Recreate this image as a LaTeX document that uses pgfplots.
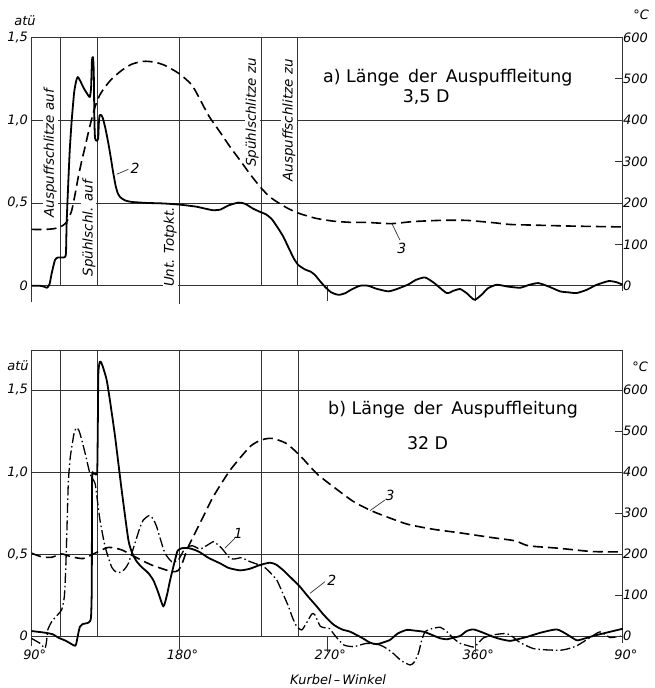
\documentclass[border=0pt]{standalone}
\usepackage{fontspec}
\setmainfont{DejaVu Sans}
\usepackage{pgfplots}
\pgfplotsset{compat=1.18}

\pgfplotsset{
  panel/.style={
    scale only axis, width=591.2bp, enlargelimits=false, clip=false,
    xmin=90, xmax=450, axis line style={draw=none},
    major tick length=0pt,
    ymajorgrids, grid style={line width=0.7bp, black!80},
    ytick={0,0.5,1,1.5}, yticklabels={0,{0,5},{1,0},{1,5}},
    yticklabel style={font=\fontsize{13}{15}\selectfont\itshape},
    xticklabel style={font=\fontsize{13}{15}\selectfont\itshape, yshift=-1bp},
  },
  tempaxis/.style={
    scale only axis, width=591.2bp, enlargelimits=false,
    xmin=90, xmax=450, axis x line=none, axis y line*=right,
    axis line style={draw=none},
    ytick={0,100,...,600}, yticklabels={0,100,200,300,400,500,600},
    tick align=inside, major tick length=8bp,
    tick style={line width=0.7bp, black!80},
    yticklabel style={font=\fontsize{13}{15}\selectfont\itshape, xshift=-3bp},
  },
}
\tikzset{
  gl/.style={line width=0.7bp, black!80},
  druck/.style={line width=1.8bp, black, smooth, tension=0.35, line join=round},
  temp/.style={line width=1.6bp, black, smooth, tension=0.4, dash pattern=on 10bp off 5bp},
  strpkt/.style={line width=1.3bp, black, smooth, tension=0.35, dash pattern=on 10bp off 3bp on 1.5bp off 3bp},
  rlab/.style={rotate=90, fill=white, inner sep=1bp, font=\fontsize{13.5}{15}\selectfont\itshape},
  ttl/.style={font=\fontsize{17.5}{20}\selectfont},
  num/.style={font=\fontsize{14}{16}\selectfont\itshape},
  lab/.style={font=\fontsize{13}{15}\selectfont\itshape},
}

\begin{document}
\begin{tikzpicture}
\useasboundingbox (0,0) rectangle (655bp,-688bp);

% ---------- a) 3,5 D ----------
\begin{axis}[panel, at={(31.5bp,-302.3bp)}, anchor=south west,
  height=265bp, ymin=-0.1, ymax=1.5, xtick=\empty]
\draw[gl] (axis cs:90,-0.1) -- (axis cs:90,1.5);
\draw[gl] (axis cs:450,-0.03) -- (axis cs:450,1.5);
\draw[gl] (axis cs:107.5,0) -- (axis cs:107.5,1.5);
\draw[gl] (axis cs:129.8,0) -- (axis cs:129.8,1.5);
\draw[gl] (axis cs:229.8,0) -- (axis cs:229.8,1.5);
\draw[gl] (axis cs:252,0) -- (axis cs:252,1.5);
\draw[gl] (axis cs:180,-0.11) -- (axis cs:180,1.5);
\draw[gl] (axis cs:270,0) -- (axis cs:270,-0.09);
\draw[gl] (axis cs:360,0) -- (axis cs:360,-0.09);

\addplot[druck] coordinates {
(90,0) (95,0) (97.5,-0.005) (99.5,-0.012) (101,0.01) (102.3,0.075) (104.3,0.155)
(106,0.17) (110.2,0.172) (111,0.2) (111.4,0.38) (112.3,0.6) (113.3,0.82) (114.5,1.0)
(116,1.17) (117.3,1.24) (118.2,1.26) (119.5,1.24) (122,1.19) (124.5,1.15) (125.6,1.14)
(126.3,1.2) (126.8,1.36) (127.4,1.38) (127.9,1.3) (128.3,1.0) (128.7,0.89) (129.8,0.875)
(130.6,0.89) (131.0,0.98) (131.5,1.03) (132.5,1.03) (133.5,1.01) (135,0.95) (136.8,0.86)
(138.5,0.76) (139.8,0.68) (141.3,0.60) (142.5,0.56) (144,0.535) (147,0.515) (151,0.506)
(160,0.50) (170,0.497) (180,0.49) (190,0.478) (196,0.465) (200.6,0.456) (205,0.46)
(210,0.485) (216,0.502) (220,0.495) (225,0.465) (229.2,0.446) (233,0.43) (236.5,0.40)
(240,0.35) (243.4,0.295) (247,0.22) (250,0.16) (252.5,0.125) (256.6,0.098) (260,0.085)
(262.7,0.064) (265.5,0.03) (268.7,-0.006) (272.5,-0.04) (277,-0.055) (281,-0.045)
(285,-0.022) (290,0.0) (295,0.0) (300,-0.018) (307.3,-0.034) (313,-0.018) (319.5,0.008)
(324,0.035) (329.6,0.05) (335,0.018) (342.8,-0.044) (347,-0.03) (351,-0.02) (355,-0.045)
(359.7,-0.085) (364,-0.055) (368,-0.015) (373.3,0.006) (380,-0.005) (387.5,-0.012)
(393,0.005) (398.6,0.016) (405,-0.005) (411.9,-0.034) (417,-0.04) (422,-0.044)
(428,-0.025) (434,0.005) (441.3,0.028) (446,0.022) (450,0.006)
};

\node[rlab] at (axis cs:101.3,0.80) {Auspuffschlitze auf};
\node[rlab] at (axis cs:124.9,0.347) {Spühlschl. auf};
\node[rlab] at (axis cs:174.4,0.233) {Unt. Totpkt.};
\node[rlab] at (axis cs:224.3,1.046) {Spühlschlitze zu};
\node[rlab] at (axis cs:246.8,0.998) {Auspuffschlitze zu};

\node[ttl] at (axis cs:343.5,1.257) {a) Länge\hspace{0.5em}der\hspace{0.5em}Auspuffleitung};
\node[ttl] at (axis cs:330.3,1.137) {3,5 D};

\draw[gl] (axis cs:141.9,0.673) -- (axis cs:149,0.703);
\node[num] at (axis cs:153,0.709) {2};
\draw[gl] (axis cs:309.4,0.376) -- (axis cs:314.4,0.275);
\node[num] at (axis cs:315.5,0.227) {3};

\node[lab] at (axis cs:86,1.60) {atü};
\node[lab] at (axis cs:461.2,1.637) {°C};
\end{axis}

\begin{axis}[tempaxis, at={(31.5bp,-302.3bp)}, anchor=south west,
  height=265bp, ymin=-40, ymax=600]
\addplot[temp] coordinates {
(90,136) (98,136) (104,138) (108,143) (110.5,150) (112.5,162) (114.5,182) (116.5,220)
(118.5,263) (120.5,300) (122.6,335) (125.5,385) (128.7,432) (131.5,460) (134.8,480)
(139,500) (144.9,520) (151,535) (158.1,542) (165,540) (171.3,532) (180,512) (187.6,485)
(192.6,450) (198,410) (204.8,371) (211,335) (217,303) (223,270) (229.2,239) (235,215)
(241.3,198) (247,185) (253.5,174) (263,163) (273.8,156) (285,153) (294.1,153) (309,150)
(322.5,155) (340,158) (354,158) (361,156) (372,152) (381.4,148) (400,146) (420,144)
(450,142)
};
\end{axis}

% ---------- b) 32 D ----------
\begin{axis}[panel, at={(31.5bp,-645.8bp)}, anchor=south west,
  height=295.2bp, ymin=-0.06, ymax=1.74,
  xtick={90,180,270,360,450},
  xticklabels={90\rlap{°},180\rlap{°},270\rlap{°},360\rlap{°},90\rlap{°}}]
\draw[gl] (axis cs:90,-0.06) -- (axis cs:90,1.74) -- (axis cs:450,1.74) -- (axis cs:450,-0.04);
\draw[gl] (axis cs:107.8,0) -- (axis cs:107.8,1.74);
\draw[gl] (axis cs:130.2,0) -- (axis cs:130.2,1.74);
\draw[gl] (axis cs:230.2,0) -- (axis cs:230.2,1.74);
\draw[gl] (axis cs:252.2,0) -- (axis cs:252.2,1.74);
\draw[gl] (axis cs:180,-0.08) -- (axis cs:180,1.74);
\draw[gl] (axis cs:270,0) -- (axis cs:270,-0.1);
\draw[gl] (axis cs:360,0) -- (axis cs:360,-0.1);

% 1
\addplot[strpkt] coordinates {
(90,-0.015) (95.2,-0.045) (98.2,-0.075) (99.2,-0.03) (99.9,0.037) (102.3,0.087)
(106,0.13) (108.4,0.16) (110,0.24) (110.8,0.4) (111.4,0.585) (112.4,0.93) (113.5,1.08)
(114.5,1.15) (116,1.24) (117.5,1.27) (119,1.25) (120.6,1.195) (123,1.1) (125.6,0.99)
(128.7,0.93) (130.2,0.82) (131.7,0.707) (134.8,0.545) (138.8,0.42) (141.5,0.39)
(143.9,0.388) (146.5,0.405) (149,0.443) (153,0.565) (156,0.66) (158.1,0.707)
(161.6,0.734) (164,0.715) (166.2,0.667) (168.5,0.59) (171.3,0.504) (175.4,0.453)
(179.4,0.463) (183.5,0.535) (188,0.55) (192.6,0.53) (196.5,0.55) (200.7,0.575)
(203,0.56) (205.8,0.535) (210.9,0.474) (214,0.47) (218,0.477) (223.1,0.453)
(231.2,0.423) (235,0.39) (239.4,0.34) (243,0.26) (246.5,0.18) (249,0.11) (251.6,0.057)
(254.6,0.037) (257.5,0.08) (260.7,0.134) (262.5,0.13) (265.8,0.06) (268.7,0.05)
(271.5,0.045) (275,0.0) (280.2,-0.055) (286.3,-0.065) (294.1,-0.045) (302.2,-0.055)
(306,-0.075) (310.3,-0.106) (315,-0.15) (320.5,-0.177) (323,-0.16) (325.6,-0.106)
(327.5,-0.03) (329.7,0.026) (334,0.045) (338.8,0.053) (342.5,0.03) (346.9,-0.014)
(351,-0.045) (355,-0.057) (359.1,-0.067) (362,-0.045) (365.2,-0.012) (372,0.008)
(379.4,0.015) (383,-0.005) (387.5,-0.04) (395.6,-0.077) (404,-0.085) (411.9,-0.087)
(416,-0.08) (422,-0.06) (430.1,-0.01) (436.2,0.025) (442.3,-0.01) (446,-0.005) (450,0.0)
};
% 2
\addplot[druck] coordinates {
(90,0.03) (98.2,0.02) (103,0.01) (106.3,-0.01) (111,-0.03) (116.5,-0.06) (117.6,-0.03)
(118.5,0.016) (119.5,0.057) (121,0.072) (124.6,0.081) (126.2,0.11) (126.7,0.3)
(126.9,0.96) (127.6,0.99) (128.6,0.99) (130.0,1.0) (130.4,1.3) (130.7,1.6) (131.5,1.67)
(132.3,1.67) (133.5,1.64) (135.8,1.56) (138,1.42) (140.9,1.215) (144.9,0.89) (149,0.585)
(151.4,0.504) (154,0.455) (157.1,0.42) (161,0.385) (164.2,0.34) (167,0.27) (170.3,0.18)
(172.5,0.25) (174.4,0.34) (177.4,0.463) (179,0.52) (181.5,0.535) (186,0.535)
(189.6,0.524) (192.6,0.51) (198,0.475) (204.8,0.443) (210,0.415) (217,0.40) (223,0.41)
(229.2,0.433) (235.2,0.447) (239,0.435) (243.4,0.40) (248,0.355) (253.5,0.30)
(258,0.245) (263.7,0.18) (268,0.128) (273.8,0.07) (279,0.04) (284,0.026) (291,-0.01)
(296,-0.04) (300.2,-0.05) (304,-0.04) (308.3,-0.024) (313,0.015) (318.5,0.037)
(323,0.033) (328.7,0.026) (333,0.01) (338.8,-0.014) (343,-0.02) (347,-0.01) (351,0.0)
(355,0.03) (359.1,0.04) (365,0.02) (371.3,-0.006) (376,-0.02) (381.4,-0.03) (386,-0.02)
(391.6,-0.006) (400,0.02) (409.8,0.04) (416,0.01) (422,-0.026) (427,-0.015) (432,0.0)
(440,0.02) (450,0.044)
};

\node[ttl] at (axis cs:346.7,1.378) {b) Länge\hspace{0.5em}der\hspace{0.5em}Auspuffleitung};
\node[ttl] at (axis cs:331.2,1.177) {32 D};

\draw[gl] (axis cs:207.8,0.535) -- (axis cs:213.9,0.596);
\node[num] at (axis cs:216,0.626) {1};
\draw[gl] (axis cs:259.6,0.26) -- (axis cs:268.7,0.331);
\node[num] at (axis cs:272.8,0.341) {2};
\draw[gl] (axis cs:296.1,0.764) -- (axis cs:305.2,0.829);
\node[num] at (axis cs:308.3,0.854) {3};

\node[lab] at (axis cs:81.8,1.646) {atü};
\node[lab] at (axis cs:460.6,1.64) {°C};
\node[lab] at (axis cs:276.7,-0.265) {Kurbel\,--\,Winkel};
\end{axis}

\begin{axis}[tempaxis, at={(31.5bp,-645.8bp)}, anchor=south west,
  height=295.2bp, ymin=-24, ymax=696]
\addplot[temp] coordinates {
(90,202) (96.2,193) (102.3,192) (108.4,200) (114.5,193) (121.6,189) (128.7,202)
(136.8,216) (144.9,210) (153,193) (163.2,173) (175.4,157) (179.4,160) (182,180)
(185.5,218) (191.6,267) (195.7,300) (200.7,340) (210.9,404) (223.1,462) (230,478)
(236.3,482) (245,470) (253.5,440) (263.7,396) (273.8,364) (286,328) (297.2,305)
(308,288) (319.5,272) (335,260) (350,252) (370.3,240) (384.5,232) (392.6,220)
(410.9,214) (431.2,206) (450,205)
};
\end{axis}
\end{tikzpicture}
\end{document}
